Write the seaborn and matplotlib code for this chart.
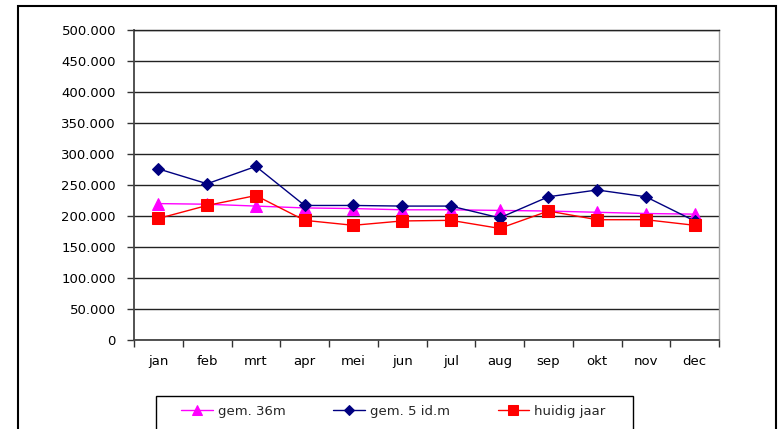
import numpy as np
import pandas as pd
import matplotlib
matplotlib.use("Agg")
import matplotlib.pyplot as plt
import seaborn as sns
from matplotlib.ticker import FuncFormatter, MultipleLocator, FixedLocator
from matplotlib.patches import Rectangle

# maanden en reeksen
maanden = ['jan', 'feb', 'mrt', 'apr', 'mei', 'jun', 'jul', 'aug', 'sep', 'okt', 'nov', 'dec']
gem_36m = [220000, 219000, 216000, 213000, 212000, 210000, 210000, 209000, 208000, 206000, 204000, 203000]
gem_5idm = [276000, 252000, 280000, 217000, 217000, 216000, 216000, 197000, 231000, 242000, 231000, 192000]
huidig_jaar = [196000, 217000, 233000, 193000, 185000, 192000, 193000, 180000, 208000, 194000, 194000, 185000]

reeksen = ['gem. 36m', 'gem. 5 id.m', 'huidig jaar']
kleuren = {'gem. 36m': '#ff00ff', 'gem. 5 id.m': '#000080', 'huidig jaar': '#ff0000'}
markers = {'gem. 36m': '^', 'gem. 5 id.m': 'D', 'huidig jaar': 's'}

df = pd.concat([
    pd.DataFrame({'maand': maanden, 'pos': range(len(maanden)), 'waarde': v, 'reeks': r})
    for r, v in zip(reeksen, [gem_36m, gem_5idm, huidig_jaar])
])

sns.set_style('white')
plt.rcParams['font.family'] = ['DejaVu Sans']

fig = plt.figure(figsize=(7.79, 4.29), dpi=100)
ax = fig.add_axes([134 / 779, 1 - 340 / 429, (719 - 134) / 779, 310 / 429])

sizes = {'gem. 36m': 8, 'gem. 5 id.m': 6, 'huidig jaar': 8}
for r in reeksen:
    sub = df[df['reeks'] == r]
    sns.lineplot(data=sub, x='pos', y='waarde', color=kleuren[r], marker=markers[r],
                 markersize=sizes[r], markeredgecolor=kleuren[r], linewidth=1,
                 sort=False, ax=ax, label=r, legend=False)

ax.set_xlim(-0.5, 11.5)
ax.set_ylim(0, 500000)
ax.set_xlabel('')
ax.set_ylabel('')

ax.yaxis.set_major_locator(MultipleLocator(50000))
ax.yaxis.set_major_formatter(FuncFormatter(lambda v, p: '0' if v == 0 else f'{int(v):,}'.replace(',', '.')))
ax.set_xticks(range(len(maanden)))
ax.set_xticklabels(maanden)
ax.xaxis.set_minor_locator(FixedLocator(np.arange(-0.5, 12, 1)))

ax.tick_params(axis='x', which='major', length=0, pad=11, labelsize=9.5, colors='black')
ax.tick_params(axis='x', which='minor', length=5, width=1, direction='out', bottom=True, color='#333333')
ax.tick_params(axis='y', which='major', length=5, width=1, direction='out', left=True, pad=8,
               labelsize=9.5, colors='#333333', labelcolor='black')

ax.grid(axis='y', color='#222222', linewidth=1)
ax.grid(axis='x', visible=False)
ax.set_axisbelow(True)

for s in ['left', 'bottom']:
    ax.spines[s].set_color('#444444')
    ax.spines[s].set_linewidth(1.3)
ax.spines['top'].set_color('#222222')
ax.spines['top'].set_linewidth(1)
ax.spines['right'].set_color('#a0a0a0')
ax.spines['right'].set_linewidth(1)

# legenda onder de grafiek
handles, labels = ax.get_legend_handles_labels()
fig.legend(handles, labels, loc='center left', bbox_to_anchor=(169 / 779, 1 - 411 / 429),
           ncol=3, frameon=False, fontsize=9.5, handlelength=2.4, handletextpad=0.4,
           columnspacing=3.6, markerscale=0.9)
fig.add_artist(Rectangle((156 / 779, -0.05), (633 - 156) / 779, 0.05 + (429 - 396) / 429,
                         transform=fig.transFigure, fill=False, edgecolor='black', linewidth=1))

# buitenkader
fig.add_artist(Rectangle((18 / 779, -0.05), (776 - 18) / 779, 0.05 + (429 - 6) / 429,
                         transform=fig.transFigure, fill=False, edgecolor='black', linewidth=1.5))

fig.savefig('out.png', dpi=100)
